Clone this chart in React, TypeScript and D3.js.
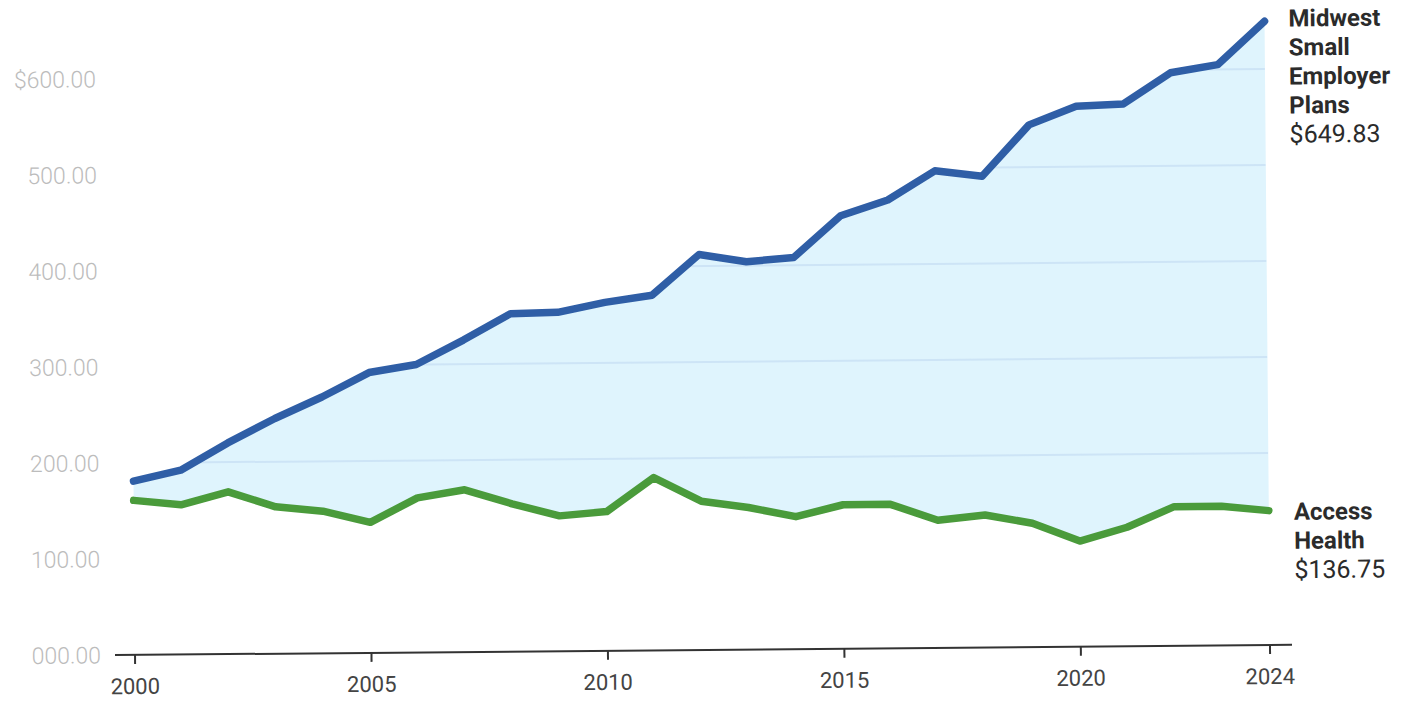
import { useEffect } from 'react';
import * as d3 from 'd3';

const YEARS = [
  2000, 2001, 2002, 2003, 2004, 2005, 2006, 2007, 2008, 2009, 2010, 2011, 2012,
  2013, 2014, 2015, 2016, 2017, 2018, 2019, 2020, 2021, 2022, 2023, 2024,
];
const MIDWEST = [
  181, 192, 220, 245, 267, 292, 300, 325, 352, 353, 363, 370, 412, 404, 408, 451,
  467, 497, 491, 544, 563, 565, 597, 605, 649.83,
];
const ACCESS = [
  161, 156, 169, 153, 148, 136, 161, 169, 154, 141, 145, 180, 155, 148, 138, 150,
  150, 133, 138, 129, 110, 124, 145, 145, 140,
];
const Y_TICKS = [0, 100, 200, 300, 400, 500, 600];
const Y_TICK_LABELS = ['000.00', '100.00', '200.00', '300.00', '400.00', '500.00', '$600.00'];
const GRID_VALUES = [200, 300, 400, 500, 600];
const X_TICKS = [2000, 2005, 2010, 2015, 2020, 2024];
const MIDWEST_LABEL = ['Midwest', 'Small', 'Employer', 'Plans'];
const MIDWEST_VALUE = '$649.83';
const ACCESS_LABEL = ['Access', 'Health'];
const ACCESS_VALUE = '$136.75';

const W = 1411;
const H = 702;
const FONT = 'Roboto, "Noto Sans", sans-serif';
const BLUE = '#2f5ea6';
const GREEN = '#4a9b3b';
const FILL = '#dff4fd';
const GRID = '#cde4f6';

export default function App() {
  useEffect(() => {
    document.body.style.margin = '0';
  }, []);

  const x = d3.scaleLinear().domain([2000, 2024]).range([135, 1270]);
  const y = d3.scaleLinear().domain([0, 600]).range([650, 74]);

  const rows = YEARS.map((yr, i) => ({ yr, top: MIDWEST[i], bottom: ACCESS[i] }));

  const area = d3
    .area<any>()
    .x(d => x(d.yr))
    .y0(d => y(d.bottom))
    .y1(d => y(d.top))(rows) as string;
  const lineTop = d3
    .line<any>()
    .x(d => x(d.yr))
    .y(d => y(d.top))(rows) as string;
  const lineBottom = d3
    .line<any>()
    .x(d => x(d.yr))
    .y(d => y(d.bottom))(rows) as string;

  const lastIdx = YEARS.length - 1;
  const topEndY = y(MIDWEST[lastIdx]);
  const bottomEndY = y(ACCESS[lastIdx]);
  const labelX = x(2024) + 24;
  const lh = 29;

  return (
    <svg width={W} height={H} style={{ display: 'block', background: '#fff', fontFamily: FONT }}>
      <defs>
        <clipPath id="areaClip">
          <path d={area} />
        </clipPath>
      </defs>
      <g transform="rotate(-0.5, 700, 650)">
        <path d={area} fill={FILL} />
        <g clipPath="url(#areaClip)">
          {GRID_VALUES.map(v => (
            <line key={v} x1={x(2000)} x2={x(2024)} y1={y(v)} y2={y(v)} stroke={GRID} strokeWidth={2} />
          ))}
        </g>
        <path d={lineTop} fill="none" stroke={BLUE} strokeWidth={7.5} strokeLinejoin="round" strokeLinecap="round" />
        <path d={lineBottom} fill="none" stroke={GREEN} strokeWidth={7.5} strokeLinejoin="round" strokeLinecap="round" />

        {/* y axis labels */}
        {Y_TICKS.map((v, i) => (
          <text
            key={v}
            x={101}
            y={y(v)}
            dy="0.35em"
            textAnchor="end"
            fontSize={23}
            fontWeight={300}
            fill="#bcbcbc"
          >
            {Y_TICK_LABELS[i]}
          </text>
        ))}

        {/* x axis */}
        <line x1={115} x2={1292} y1={y(0)} y2={y(0)} stroke="#333" strokeWidth={2} />
        {X_TICKS.map(t => (
          <g key={t}>
            <line x1={x(t)} x2={x(t)} y1={y(0)} y2={y(0) + 9} stroke="#333" strokeWidth={2} />
            <text x={x(t)} y={y(0) + 39} textAnchor="middle" fontSize={22} fill="#444">
              {t}
            </text>
          </g>
        ))}

        {/* series labels */}
        <g fontSize={24} fill="#2b2b2b">
          {MIDWEST_LABEL.map((s, i) => (
            <text key={s} x={labelX} y={topEndY - 3 + i * lh} dy="0.35em" fontWeight={700}>
              {s}
            </text>
          ))}
          <text x={labelX} y={topEndY - 3 + MIDWEST_LABEL.length * lh} dy="0.35em" fontSize={25}>
            {MIDWEST_VALUE}
          </text>
          {ACCESS_LABEL.map((s, i) => (
            <text key={s} x={labelX + 1} y={bottomEndY + 1 + i * lh} dy="0.35em" fontWeight={700}>
              {s}
            </text>
          ))}
          <text x={labelX + 1} y={bottomEndY + 1 + ACCESS_LABEL.length * lh} dy="0.35em" fontSize={25}>
            {ACCESS_VALUE}
          </text>
        </g>
      </g>
    </svg>
  );
}
